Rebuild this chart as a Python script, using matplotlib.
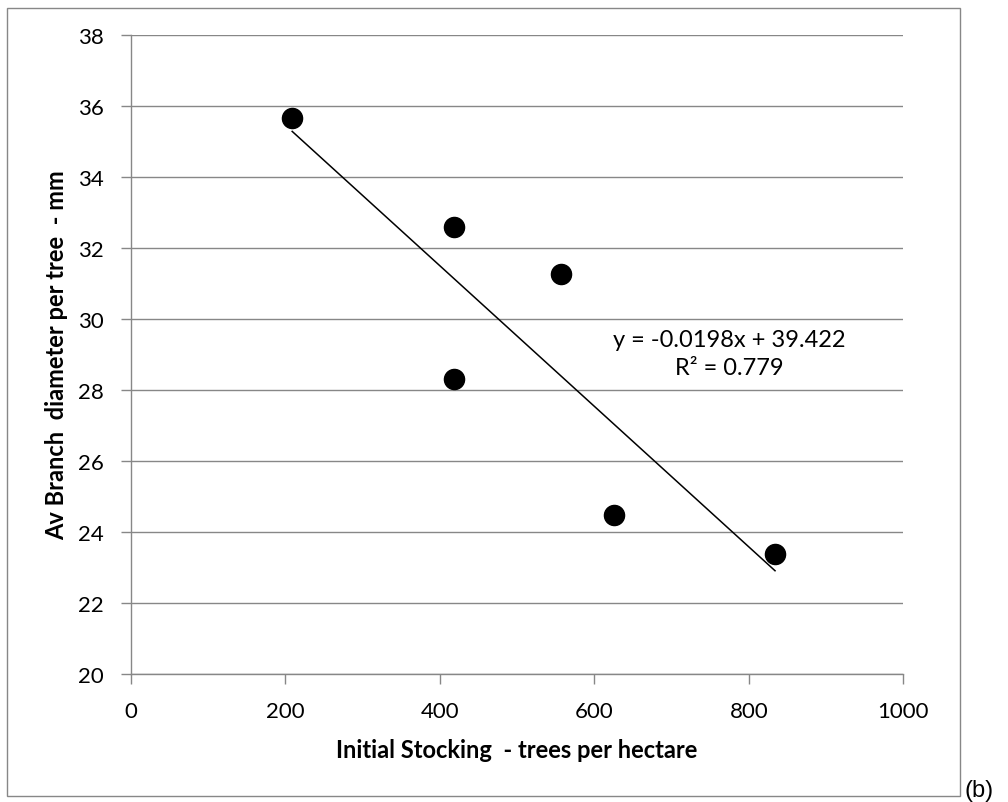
# Av branch diameter vs initial stocking
import matplotlib
matplotlib.use('Agg')
import matplotlib.pyplot as plt
from matplotlib.patches import Rectangle

stocking = [209, 418, 557, 418, 626, 834]
branch_diam = [35.65, 32.6, 31.27, 28.31, 24.48, 23.38]
slope = -0.0198
intercept = 39.422
r2 = 0.779

x_ticks = [0, 200, 400, 600, 800, 1000]
y_ticks = [20, 22, 24, 26, 28, 30, 32, 34, 36, 38]

plt.rcParams['font.family'] = ['Lato', 'DejaVu Sans']
grey = '#878787'

fig = plt.figure(figsize=(10.08, 8.03), dpi=100)
ax = fig.add_axes([0.1297, 0.1594, 0.7664, 0.7958])

ax.scatter(stocking, branch_diam, s=210, color='black', zorder=3)

# trendline over the data range
x0, x1 = min(stocking), max(stocking)
ax.plot([x0, x1], [slope * x0 + intercept, slope * x1 + intercept],
        color='black', lw=1.1, zorder=2)

ax.text(775, 29.42, 'y = -0.0198x + 39.422', ha='center', va='center', fontsize=17)
ax.text(775, 28.62, 'R² = %.3f' % r2, ha='center', va='center', fontsize=17)

ax.set_xlim(0, 1000)
ax.set_ylim(20, 38)
ax.set_xticks(x_ticks)
ax.set_yticks(y_ticks)
ax.tick_params(axis='both', labelsize=16, length=7.5, width=1.0, color=grey, pad=12)
ax.grid(True, axis='y', color=grey, lw=1.0)
ax.set_axisbelow(True)
for s in ['top', 'right']:
    ax.spines[s].set_visible(False)
for s in ['left', 'bottom']:
    ax.spines[s].set_color(grey)
    ax.spines[s].set_linewidth(1.0)

ax.set_xlabel('Initial Stocking  - trees per hectare', fontsize=17, fontweight='bold', labelpad=12)
ax.set_ylabel('Av Branch  diameter per tree  - mm', fontsize=17, fontweight='bold', labelpad=7)

# chart border
fig.patches.append(Rectangle((0.0069, 0.0075), 0.9455, 0.9813, transform=fig.transFigure,
                             fill=False, edgecolor=grey, lw=1.0))
fig.text(979.5 / 1008, 1 - 791 / 803, '(b)', ha='center', va='center', fontsize=17,
         family='Liberation Sans')

fig.savefig('out.png', dpi=100)
